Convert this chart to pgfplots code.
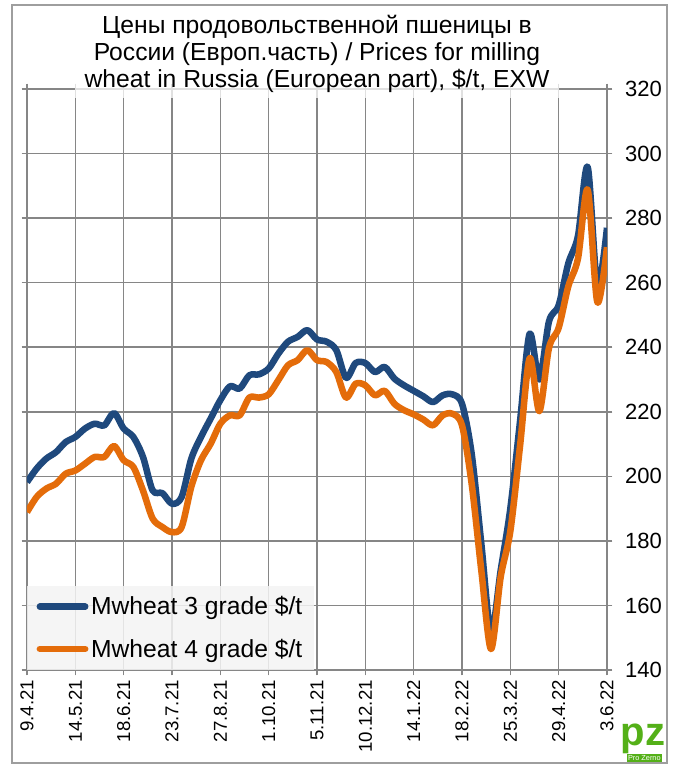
\documentclass[border=0pt]{standalone}
\usepackage{pgfplots}
\pgfplotsset{compat=1.18}
\usepackage{fontspec}
\setmainfont{Liberation Sans}
\definecolor{wblue}{RGB}{31,73,125}
\definecolor{worange}{RGB}{228,108,10}
\definecolor{gridc}{RGB}{134,134,134}
\definecolor{logogreen}{RGB}{84,176,24}
\pgfplotstableread{
w blue orange
0 198.2 188.9
1 202.4 193.6
2 205.5 196.2
3 207.5 197.7
4 210.6 200.8
5 212.2 201.8
6 214.8 203.9
7 216.3 206.0
8 215.8 206.0
9 219.6 209.4
10 214.8 205.0
11 212.2 202.9
12 206.0 195.6
13 195.6 186.9
14 194.8 184.3
15 191.5 182.7
16 193.6 184.3
17 205.5 196.8
18 212.2 205.0
19 217.9 210.1
20 223.6 216.3
21 227.9 218.9
22 227.2 218.9
23 231.3 224.4
24 231.6 224.4
25 233.4 225.4
26 238.0 229.8
27 241.7 234.4
28 243.2 236.0
29 245.3 239.1
30 242.4 236.0
31 241.7 235.4
32 239.1 232.3
33 230.5 224.4
34 235.1 228.7
35 235.1 228.2
36 232.3 225.1
37 233.9 226.5
38 230.3 222.5
39 228.2 220.5
40 226.5 219.2
41 224.8 217.6
42 223.0 215.8
43 225.1 218.9
44 225.4 219.4
45 222.5 215.8
46 207.0 197.7
47 179.1 170.8
48 151.5 146.5
49 170.8 168.8
50 190.0 183.0
51 216.9 209.3
52 244.2 236.6
53 230.0 220.2
54 248.0 239.8
55 253.0 246.0
56 266.0 258.9
57 274.5 267.5
58 295.8 288.8
59 259.0 254.0
60 277.0 271.0
}\prices
\begin{document}
\begin{tikzpicture}[x=1pt,y=1pt]
\fill[white] (-20.25,502.5) rectangle (486.75,-70.5);
\draw[gridc!80, line width=0.9pt] (-11.25,498.75) rectangle (480,-69.75);
\begin{axis}[
  at={(0pt,0pt)}, anchor=south west,
  scale only axis, width=435pt, height=435.75pt,
  xmin=0, xmax=60, ymin=140, ymax=320,
  xtick={0,5,...,60},
  xticklabels={9.4.21,14.5.21,18.6.21,23.7.21,27.8.21,1.10.21,5.11.21,10.12.21,14.1.22,18.2.22,25.3.22,29.4.22,3.6.22},
  ytick={140,160,...,320},
  yticklabel pos=right,
  grid=major,
  major grid style={gridc, line width=1.1pt},
  axis line style={gridc, line width=1.1pt},
  tick style={gridc, line width=1.1pt},
  tick align=outside,
  major tick length=4pt,
  x tick label style={rotate=90, anchor=east, font=\fontsize{14}{14}\selectfont},
  y tick label style={anchor=west, xshift=6pt, font=\fontsize{16.5}{16.5}\selectfont},
  /pgf/number format/assume math mode=true,
  legend style={at={(rel axis cs:0,0)}, anchor=south west, draw=none,
    fill=gray!9, fill opacity=0.85, text opacity=1,
    font=\fontsize{18.5}{20}\selectfont, inner xsep=7pt, inner ysep=6pt, row sep=12.5pt},
  legend cell align=left,
  legend image code/.code={\draw[#1, line cap=round] (0pt,0pt) -- (34pt,0pt);},
]
\addplot[wblue, line width=4.9pt, line join=round, smooth, tension=0.5] table[x=w, y=blue] {\prices};
\addlegendentry{Mwheat 3 grade \$/t}
\addplot[worange, line width=4.9pt, line join=round, smooth, tension=0.5] table[x=w, y=orange] {\prices};
\addlegendentry{Mwheat 4 grade \$/t}
\end{axis}
\node[anchor=south, fill=white, fill opacity=0.75, text opacity=1, align=center,
  minimum width=363pt, inner ysep=4pt, font=\fontsize{18.5}{20.25}\selectfont]
  at (217.5,429) {Цены продовольственной пшеницы в\\России (Европ.часть) / Prices for milling\\wheat in Russia (European part), \$/t, EXW};
\node[text=logogreen, font=\fontsize{30}{30}\bfseries\selectfont, inner sep=0] at (462,-52) {pz};
\node[fill=logogreen, text=white, font=\fontsize{5.5}{6}\selectfont, inner sep=1pt] at (463,-66) {Pro Zerno};
\end{tikzpicture}
\end{document}
